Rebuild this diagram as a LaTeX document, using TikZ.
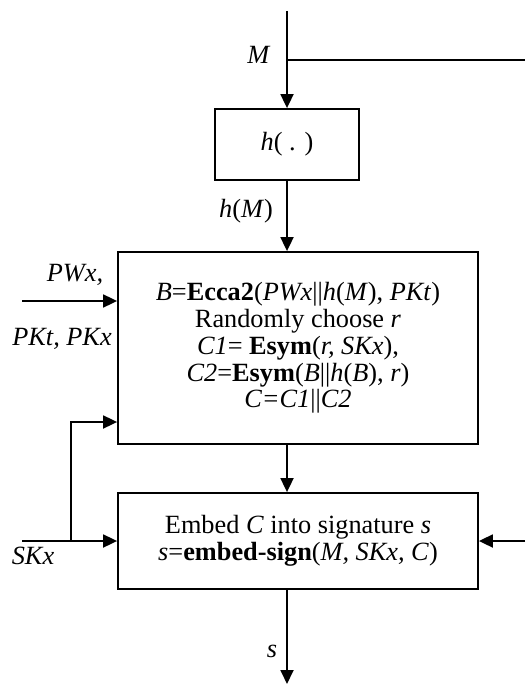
\documentclass[tikz,border=0pt]{standalone}
\usepackage{fontspec}
\setmainfont{Liberation Serif}
\usetikzlibrary{arrows.meta}

\newcommand{\bigtxt}{\fontsize{26.3}{26.8}\selectfont}

\begin{document}
\begin{tikzpicture}[x=1pt, y=-1pt,
        every node/.append style={font=\bigtxt},
        blk/.style={draw, line width=1.8pt, rectangle, align=center, inner sep=0pt},
        arr/.style={-{Triangle[length=14pt,width=13pt]}, line width=1.8pt},
        ln/.style={line width=1.8pt},
        lbl/.style={anchor=base, inner sep=0pt}]
        \useasboundingbox (0,0) rectangle (525,684);

        \coordinate (top) at (287,11);
        \coordinate (split) at (287,60);
        \coordinate (mright) at (525,60);
        \coordinate (pwin) at (22,301);
        \coordinate (skin) at (22,541);
        \coordinate (skup) at (71,541);
        \coordinate (skturn) at (71,422);
        \coordinate (mrin) at (525,541);
        \coordinate (out) at (287,684);

        \node[blk, minimum width=144pt, minimum height=71pt] at (287,144.5) (hash) {\textit{h}( . )};
        \node[blk, minimum width=360pt, minimum height=192pt] at (298,348) (enc)
            {\textit{B}=\textbf{Ecca2}(\textit{PWx}||\textit{h}(\textit{M}), \textit{PKt})\\
             Randomly choose \textit{r}\\
             \textit{C1}= \textbf{Esym}(\textit{r, SKx}),\\
             \textit{C2}=\textbf{Esym}(\textit{B}||\textit{h}(\textit{B}), \textit{r})\\
             \textit{C=C1}||\textit{C2}};
        \node[blk, minimum width=360pt, minimum height=96pt] at (298,541) (emb)
            {Embed \textit{C} into signature \textit{s}\\
             \textit{s}=\textbf{embed-sign}(\textit{M, SKx, C})};

        \node[lbl] at (259,64) (mlab) {\textit{M}};
        \node[lbl] at (246,218) (hmlab) {\textit{h}(\textit{M})};
        \node[lbl] at (75,281) (pwlab) {\textit{PWx,}};
        \node[lbl] at (62,345) (pklab) {\textit{PKt, PKx}};
        \node[lbl] at (33,564) (sklab) {\textit{SKx}};
        \node[lbl] at (272,657) (slab) {\textit{s}};

        \draw [arr] (top) -- (hash);
        \draw [ln] (split) -- (mright);
        \draw [arr] (hash) -- (hash |- enc.north);
        \draw [arr] (enc.south -| hash) -- (emb.north -| hash);
        \draw [arr] (emb.south -| hash) -- (out);
        \draw [arr] (pwin) -- (pwin -| enc.west);
        \draw [arr] (skin) -- (emb.west);
        \draw [arr] (skup) -- (skturn) -- (skturn -| enc.west);
        \draw [arr] (mrin) -- (emb.east);
    \end{tikzpicture}
\end{document}
